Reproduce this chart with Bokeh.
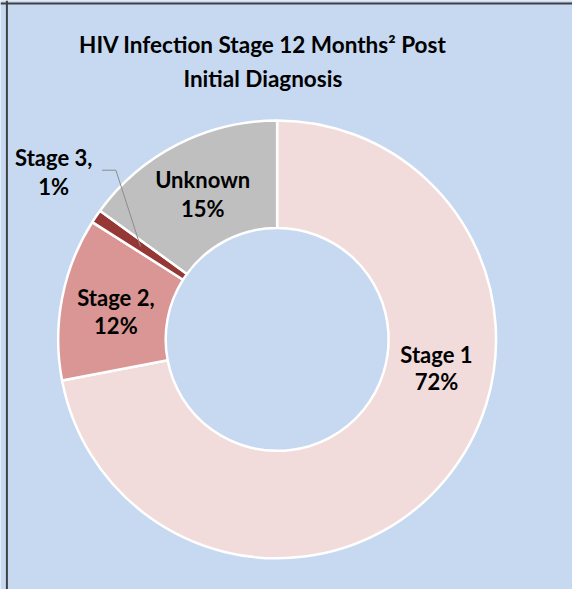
import numpy as np
from bokeh.plotting import figure
from bokeh.models import Span, ColumnDataSource
from bokeh.core.properties import value
from bokeh.embed import file_html
from bokeh.resources import INLINE

# ---- data ----
categories = ["Stage 1", "Stage 2", "Stage 3", "Unknown"]
percents = [72, 12, 1, 15]
label_lines = [["Stage 1", "72%"], ["Stage 2,", "12%"], ["Stage 3,", "1%"], ["Unknown", "15%"]]
title_lines = ["HIV Infection Stage 12 Months\u00b2 Post", "Initial Diagnosis"]

# ---- style / layout ----
colors = ["#F2DCDB", "#DA9694", "#953735", "#BFBFBF"]
BG = "#C6D9F1"
W, H = 572, 589
SX, SY = W / 580, H / 597
TXT_DY = -4  # text baseline correction


def fx(ix):
    return ix * SX


def fy(iy):
    return H - iy * SY


cx, cy = fx(280.5), fy(343.5)
R_OUT, R_IN = 222 * SX, 113 * SX
FONT = value("Lato")

p = figure(width=W, height=H, x_range=(0, W), y_range=(0, H),
           output_backend="svg", toolbar_location=None,
           min_border=0, background_fill_color=BG, border_fill_color=BG,
           outline_line_color=None)
p.axis.visible = False
p.grid.visible = False

frac = np.array(percents, dtype=float) / np.sum(percents)
cum = np.cumsum(frac)
prev = np.concatenate([[0.0], cum[:-1]])
start = np.pi / 2 - prev * 2 * np.pi
end = np.pi / 2 - cum * 2 * np.pi

src = ColumnDataSource(dict(x=[cx] * len(categories), y=[cy] * len(categories),
                            start=start, end=end, color=colors, cat=categories))
p.annular_wedge(x="x", y="y", inner_radius=R_IN, outer_radius=R_OUT,
                start_angle="start", end_angle="end", direction="clock",
                fill_color="color", line_color="white", line_width=2.5, source=src)

# leader line for Stage 3 (ends at slice middle)
mid = np.pi / 2 - (prev[2] + frac[2] / 2) * 2 * np.pi
rm = (R_IN + R_OUT) / 2
p.line([fx(103), fx(117), cx + rm * np.cos(mid)], [fy(172), fy(172), cy + rm * np.sin(mid)],
       line_color="#8C8C8C", line_width=1)

# labels (anchor x, baseline 1, baseline 2 in reference pixels)
label_pos = [(442, 363, 390), (117, 305, 333), (54, 163, 193), (205, 185, 215)]
for (lx, b1, b2), lines in zip(label_pos, label_lines):
    p.text(x=[fx(lx), fx(lx)], y=[fy(b1 + TXT_DY), fy(b2 + TXT_DY)], text=lines,
           text_align="center", text_baseline="alphabetic",
           text_font=FONT, text_font_style="bold", text_font_size="22px",
           text_color="black")

# title
p.text(x=[fx(266), fx(266)], y=[fy(49 + TXT_DY), fy(83 + TXT_DY)], text=title_lines,
       text_align="center", text_baseline="alphabetic",
       text_font=FONT, text_font_style="bold", text_font_size="22.5px",
       text_color="black")

# chart border (left & top)
p.add_layout(Span(location=fx(6.5), dimension="height", line_color="#404040", line_width=2))
p.add_layout(Span(location=fy(3), dimension="width", line_color="#404040", line_width=2))

open("out.html", "w").write(file_html(p, INLINE))
